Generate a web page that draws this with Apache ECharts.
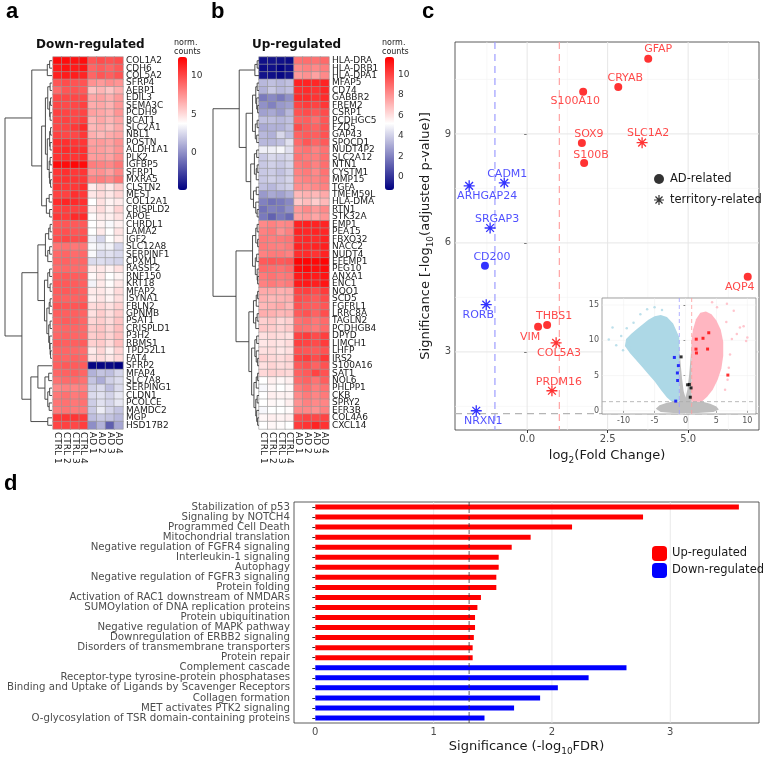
<!DOCTYPE html>
<html lang="en">
<head>
<meta charset="UTF-8">
<title>Astrocyte DEG figure</title>
<script src="https://cdn.jsdelivr.net/npm/echarts@6/dist/echarts.min.js"></script>
<style>
  html, body { margin: 0; padding: 0; background: #fff; }
  #chart { width: 765px; height: 757px; }
</style>
</head>
<body>
<div id="chart"></div>
<script>
// ---------- panel a / b : heatmaps ----------
const samples = ['CTRL 1', 'CTRL 2', 'CTRL 3', 'CTRL 4', 'AD 1', 'AD 2', 'AD 3', 'AD 4'];

const downGenes = ['COL1A2', 'CDH6', 'COL5A2', 'SFRP4', 'AEBP1', 'EDIL3', 'SEMA3C', 'PCDH9', 'BCAT1', 'SLC2A1',
  'NBL1', 'POSTN', 'ALDH1A1', 'PLK2', 'IGFBP5', 'SFRP1', 'MXRA5', 'CLSTN2', 'MEST', 'COL12A1',
  'CRISPLD2', 'APOE', 'CHRDL1', 'LAMA2', 'IGF2', 'SLC12A8', 'SERPINF1', 'CPXM1', 'RASSF2', 'RNF150',
  'KRT18', 'MFAP2', 'ISYNA1', 'FBLN2', 'GPNMB', 'PSAT1', 'CRISPLD1', 'P3H2', 'RBMS1', 'TPD52L1',
  'FAT4', 'SFRP2', 'MFAP4', 'SLC7A8', 'SERPING1', 'CLDN1', 'PCOLCE', 'MAMDC2', 'MGP', 'HSD17B2'];

// one row per gene: CTRL 1-4, AD 1-4
const downValues = [
  [12.0, 12.0, 11.8, 12.0, 9.5, 9.8, 9.6, 9.8],
  [11.5, 11.8, 11.5, 11.7, 9.0, 9.3, 9.0, 9.4],
  [11.3, 11.5, 11.4, 11.2, 9.0, 9.5, 9.2, 9.6],
  [9.5, 9.8, 9.6, 9.6, 7.5, 7.2, 7.6, 7.4],
  [8.8, 9.5, 9.6, 9.4, 5.8, 6.3, 5.8, 6.5],
  [10.0, 10.0, 10.0, 9.9, 6.8, 7.0, 6.5, 7.2],
  [10.0, 9.9, 10.0, 10.2, 6.6, 6.8, 6.4, 7.3],
  [10.2, 10.1, 10.0, 10.1, 7.0, 6.8, 6.5, 7.4],
  [10.0, 10.2, 10.0, 10.3, 6.3, 6.8, 6.3, 6.9],
  [10.0, 10.1, 10.5, 11.0, 6.2, 6.5, 6.0, 6.7],
  [10.2, 10.0, 10.0, 10.5, 6.5, 6.2, 6.6, 6.9],
  [10.8, 10.8, 10.6, 10.6, 7.0, 7.2, 6.9, 7.5],
  [10.8, 11.0, 10.8, 10.8, 7.2, 7.1, 6.8, 7.4],
  [10.7, 10.8, 10.6, 10.8, 7.1, 7.2, 6.9, 7.6],
  [12.0, 12.0, 12.2, 12.0, 8.2, 8.0, 7.8, 8.4],
  [10.6, 10.8, 10.5, 10.6, 7.3, 7.5, 7.0, 7.9],
  [10.6, 10.7, 10.6, 10.5, 8.0, 8.2, 7.8, 8.5],
  [10.6, 10.5, 10.5, 10.8, 4.4, 5.2, 4.5, 5.5],
  [10.2, 10.2, 10.8, 10.5, 4.6, 5.0, 4.6, 5.2],
  [11.0, 11.2, 11.0, 10.8, 3.8, 4.8, 4.2, 4.5],
  [10.2, 10.3, 10.2, 10.3, 4.4, 5.0, 4.3, 5.3],
  [10.5, 10.4, 11.0, 11.0, 3.9, 4.5, 4.3, 4.8],
  [9.4, 9.5, 9.4, 9.4, 3.8, 4.2, 3.6, 4.3],
  [9.6, 9.7, 9.5, 9.6, 3.8, 4.5, 3.8, 4.7],
  [9.8, 10.0, 9.8, 9.9, 3.3, 2.4, 3.8, 4.4],
  [8.5, 8.6, 8.4, 8.5, 3.6, 3.2, 3.4, 2.4],
  [8.9, 9.0, 8.8, 8.9, 3.6, 2.6, 2.8, 2.5],
  [9.0, 9.1, 8.9, 9.0, 2.6, 2.7, 2.5, 2.3],
  [8.8, 8.9, 8.8, 8.8, 4.4, 4.6, 4.2, 4.8],
  [9.3, 9.4, 9.3, 9.3, 4.0, 4.6, 3.8, 4.2],
  [9.4, 9.4, 9.3, 9.2, 3.4, 4.5, 3.9, 4.6],
  [9.3, 9.4, 9.3, 9.2, 4.5, 4.6, 4.2, 5.0],
  [9.2, 9.1, 9.1, 9.2, 4.3, 4.7, 4.2, 4.9],
  [9.6, 9.5, 9.5, 9.6, 5.0, 5.2, 4.8, 5.4],
  [9.3, 9.2, 9.2, 9.1, 4.8, 5.5, 4.9, 5.6],
  [9.1, 9.3, 9.2, 9.0, 5.2, 5.5, 5.0, 5.8],
  [8.9, 9.0, 9.0, 8.9, 5.6, 5.8, 5.2, 6.0],
  [9.0, 9.1, 9.0, 8.9, 5.5, 5.8, 5.3, 6.0],
  [9.3, 9.2, 9.2, 9.3, 5.4, 5.6, 5.0, 6.0],
  [9.0, 9.0, 8.9, 8.8, 4.5, 5.2, 4.3, 5.3],
  [9.1, 9.0, 9.1, 9.0, 4.8, 5.0, 4.6, 5.1],
  [9.2, 9.4, 9.3, 9.3, -4.6, -4.6, -4.5, -4.8],
  [9.0, 9.1, 9.2, 9.0, 1.2, 1.8, 1.6, 2.4],
  [8.6, 8.8, 8.8, 8.6, 1.8, 1.0, 2.2, 2.6],
  [7.8, 8.0, 7.9, 8.1, 2.2, 2.6, 1.6, 2.6],
  [8.4, 8.6, 8.3, 8.5, 2.6, 2.8, 2.3, 3.0],
  [8.5, 8.6, 8.4, 8.6, 2.1, 2.8, 2.4, 3.0],
  [8.3, 8.5, 8.3, 8.4, 2.0, 3.2, 2.4, 1.8],
  [10.5, 10.6, 10.6, 10.4, 1.6, 2.0, 1.8, 1.4],
  [10.1, 10.2, 10.0, 10.3, 0.0, 1.2, -1.6, 0.8]
];

const upGenes = ['HLA-DRA', 'HLA-DRB1', 'HLA-DPA1', 'MFAP5', 'CD74', 'GABBR2', 'FREM2', 'CSRP1', 'PCDHGC5', 'FZD5',
  'GAP43', 'SPOCD1', 'NUDT4P2', 'SLC2A12', 'NTN1', 'CYSTM1', 'MMP15', 'TGFA', 'TMEM59L', 'HLA-DMA',
  'RTN1', 'STK32A', 'EMP1', 'PEA15', 'FBXO32', 'NACC2', 'NUDT4', 'EFEMP1', 'PEG10', 'ANXA1',
  'ENC1', 'NQO1', 'SCD5', 'FGFRL1', 'LRRC8A', 'TAGLN2', 'PCDHGB4', 'DPYD', 'LIMCH1', 'LHFP',
  'IRS2', 'S100A16', 'SAT1', 'NOL6', 'PHLPP1', 'CKB', 'SPRY2', 'EFR3B', 'COL4A6', 'CXCL14'];

const upValues = [
  [-0.9, -0.8, -0.9, -1.0, 8.8, 8.9, 8.8, 9.0],
  [-1.0, -0.9, -1.2, -0.9, 8.2, 8.4, 8.2, 8.5],
  [-0.8, -0.9, -1.1, -0.8, 7.8, 8.0, 7.6, 8.2],
  [3.4, 3.6, 3.4, 3.6, 10.8, 10.8, 10.7, 10.8],
  [3.2, 3.8, 3.4, 3.6, 10.5, 10.6, 10.4, 10.7],
  [1.8, 2.2, 1.8, 2.4, 10.6, 10.6, 10.4, 10.6],
  [2.4, 2.0, 2.6, 2.8, 10.0, 10.2, 10.0, 10.3],
  [2.8, 3.0, 2.6, 3.4, 9.6, 9.8, 9.5, 9.8],
  [3.6, 3.6, 3.4, 3.6, 9.2, 9.3, 8.9, 9.5],
  [3.0, 3.2, 3.2, 3.6, 9.8, 9.4, 9.2, 9.6],
  [3.4, 3.2, 4.2, 3.6, 9.2, 9.4, 9.3, 9.6],
  [3.4, 3.4, 3.6, 4.4, 9.0, 9.5, 9.1, 9.4],
  [4.8, 4.8, 5.0, 4.4, 8.6, 8.8, 8.4, 8.8],
  [3.8, 4.2, 4.0, 4.2, 8.8, 8.6, 8.5, 8.9],
  [3.8, 4.0, 3.8, 4.1, 8.6, 8.8, 8.4, 8.9],
  [3.8, 3.9, 3.6, 4.0, 8.4, 8.6, 8.2, 8.8],
  [3.8, 4.0, 3.8, 4.1, 8.2, 8.4, 8.3, 8.6],
  [3.6, 3.4, 3.8, 4.0, 8.1, 8.0, 8.2, 8.4],
  [2.6, 3.0, 2.8, 3.2, 7.0, 7.2, 7.0, 7.4],
  [2.0, 1.6, 1.8, 2.2, 6.6, 6.9, 6.5, 7.0],
  [1.6, 2.0, 1.8, 2.4, 7.8, 8.2, 7.8, 8.2],
  [1.8, 1.2, 1.8, 1.4, 7.6, 7.8, 7.5, 7.9],
  [8.2, 8.4, 8.2, 8.3, 10.8, 10.9, 10.8, 10.8],
  [8.4, 8.6, 8.0, 8.4, 10.8, 10.7, 10.8, 10.7],
  [8.6, 8.5, 8.6, 8.7, 10.6, 10.7, 10.6, 10.8],
  [8.6, 8.5, 8.4, 8.6, 10.8, 10.7, 10.8, 10.9],
  [8.4, 8.6, 8.6, 8.4, 10.5, 10.6, 10.4, 10.8],
  [9.4, 9.5, 9.4, 9.5, 11.6, 11.6, 11.5, 11.6],
  [9.0, 8.9, 8.8, 9.0, 11.4, 11.5, 11.3, 11.4],
  [8.6, 8.8, 8.6, 8.7, 11.0, 11.2, 11.0, 11.2],
  [8.4, 8.6, 8.4, 8.6, 11.0, 11.1, 10.9, 11.2],
  [7.4, 7.4, 7.2, 7.3, 10.0, 10.1, 9.8, 10.2],
  [7.2, 7.0, 7.1, 7.2, 9.8, 9.6, 9.4, 9.8],
  [7.0, 7.2, 7.4, 7.0, 9.6, 9.4, 9.3, 9.5],
  [7.3, 7.2, 7.0, 7.1, 9.4, 9.6, 9.2, 9.7],
  [6.4, 6.6, 6.2, 6.4, 8.8, 9.0, 8.7, 9.0],
  [6.6, 6.5, 6.3, 6.5, 8.9, 8.8, 8.6, 9.0],
  [6.0, 6.2, 6.1, 6.0, 10.0, 10.2, 9.8, 10.1],
  [5.8, 6.0, 5.9, 6.1, 10.1, 10.0, 9.8, 10.2],
  [6.0, 6.1, 5.8, 6.0, 9.6, 9.5, 9.4, 9.6],
  [6.4, 6.2, 6.1, 6.3, 10.0, 10.2, 9.8, 10.3],
  [6.0, 6.3, 6.1, 6.2, 9.4, 9.6, 9.2, 9.6],
  [6.2, 6.4, 6.3, 6.2, 9.2, 9.4, 10.0, 9.6],
  [5.2, 5.6, 5.4, 5.6, 9.0, 9.2, 8.8, 9.3],
  [5.0, 5.4, 5.2, 5.4, 8.6, 8.9, 8.5, 8.8],
  [5.2, 5.6, 5.5, 5.5, 8.2, 8.6, 8.3, 8.6],
  [5.2, 5.4, 5.3, 5.6, 8.0, 8.4, 8.2, 8.3],
  [5.0, 5.2, 5.2, 5.3, 8.2, 8.2, 8.0, 8.4],
  [5.4, 5.6, 5.5, 5.6, 9.8, 10.0, 9.9, 10.0],
  [5.2, 5.4, 5.3, 5.2, 10.2, 10.4, 10.8, 10.4]
];

// row dendrograms: [height, left, right], leaves are row indices
const downTree = [100,
  [43, [10, [5, 0, 1], 2],
    [22,
      [14, [9, [4, 3, 4], [5, [3, 5, 6], [4, 7, 8]]],
        [10, [5, [3, 9, 10], [4, 11, 12]], [6, [4, 13, 14], [5, 15, [3, 16, 17]]]]],
      [12, [6, 18, 19], [5, 20, 21]]]],
  [64,
    [30, [14, [7, [4, 22, 23], 24], [9, [5, 25, 26], 27]],
      [16, [9, [5, 28, 29], [4, 30, 31]],
        [11, [6, [4, 32, 33], 34], [7, [4, 35, 36], [5, 37, [4, 38, [3, 39, 40]]]]]]],
    [45, [30, 41, [15, [7, 42, 43], [9, [5, 44, 45], [6, 46, 47]]]], [9, 48, 49]]]];

const upTree = [100,
  [43, [9, [4, 0, 1], 2],
    [28, [14, [7, [4, 3, 4], [5, 5, [3, 6, 7]]], [8, [4, 8, 9], [5, 10, 11]]],
      [18, [10, [5, 12, 13], [6, [4, 14, 15], 16]], [12, [6, 17, 18], [7, 19, [4, 20, 21]]]]]],
  [50,
    [14, [7, [4, 22, 23], [3, 24, 25]], [8, [5, 26, 27], [4, 28, [3, 29, 30]]]],
    [22, [12, [6, [3, 31, 32], 33], [7, [4, 34, 35], 36]],
      [16, [9, [5, 37, 38], [6, 39, [3, 40, 41]]], [11, [6, [3, 42, 43], 44], [7, [4, 45, 46], [5, 47, [3, 48, 49]]]]]]]];

// ---------- panel c : volcano ----------
const volcanoGenes = ['GFAP', 'CRYAB', 'S100A10', 'SOX9', 'SLC1A2', 'S100B', 'CADM1', 'ARHGAP24', 'SRGAP3',
  'CD200', 'AQP4', 'RORB', 'THBS1', 'VIM', 'COL5A3', 'PRDM16', 'NRXN1'];
const volcanoLog2FC = [3.76, 2.83, 1.74, 1.70, 3.57, 1.77, -0.71, -1.80, -1.15, -1.31, 6.85, -1.27, 0.62, 0.34, 0.90, 0.77, -1.58];
const volcanoSig = [11.07, 10.29, 10.16, 8.75, 8.76, 8.20, 7.65, 7.57, 6.41, 5.37, 5.07, 4.30, 3.74, 3.69, 3.25, 1.93, 1.38];
const volcanoType = ['AD', 'AD', 'AD', 'AD', 'territory', 'AD', 'territory', 'territory', 'territory',
  'AD', 'AD', 'territory', 'AD', 'AD', 'territory', 'territory', 'territory'];

// inset: outlines of the dense clouds plus the sparse outer points
const insetDownArea = [[-1, 1.3], [-2.2, 1.3], [-3, 1.9], [-4, 3.0], [-5, 4.2], [-6, 5.2], [-7, 6.2], [-8, 7.2], [-9, 8.2],
  [-9.8, 9.2], [-9.6, 10.2], [-8.8, 10.9], [-8, 11.5], [-7, 12.2], [-6, 12.9], [-5, 13.4], [-4, 13.6], [-3, 13.3],
  [-2, 12.4], [-1.4, 11.2], [-1, 10.4]];
const insetUpArea = [[1, 1.3], [2.6, 1.3], [3.5, 2.0], [4.4, 3.0], [5.2, 4.4], [5.8, 6.0], [6.1, 7.8], [6.1, 9.8],
  [5.7, 11.5], [5.0, 12.8], [4.2, 13.7], [3.3, 14.1], [2.4, 13.9], [1.7, 13.0], [1.2, 11.5], [1, 10.2]];
const insetNsArea = [[-1, 9.3], [-0.8, 6.8], [-0.55, 4.5], [-0.3, 2.8], [0, 1.9], [0.3, 3.0], [0.6, 5.2], [0.85, 7.8],
  [1, 10], [1, 1.3], [2.8, 1.3], [4, 1.0], [5, 0.6], [5.4, 0.2], [4.5, -0.15], [2, -0.3], [-2, -0.3], [-4, -0.15],
  [-4.8, 0.3], [-4.2, 0.8], [-3, 1.15], [-2.2, 1.3], [-1, 1.3]];
const insetDownSparse = [[-12.4, 10.1], [-11.8, 11.8], [-11.2, 9.3], [-9.5, 11.7], [-9.2, 9.9], [-8.4, 12.5], [-7.3, 13.7],
  [-6.2, 14.4], [-5.0, 14.7], [-3.8, 14.3], [-10.4, 10.6], [-8.8, 8.9], [-7.8, 7.6], [-6.8, 6.4], [-10.1, 8.6]];
const insetUpSparse = [[6.7, 15.2], [7.8, 14.2], [8.8, 11.8], [9.4, 12.0], [10.0, 10.4], [9.8, 9.9], [8.3, 10.9], [7.2, 8.0],
  [6.4, 3.0], [7.0, 6.1], [5.1, 14.7], [4.3, 15.4], [6.6, 12.6], [7.5, 10.2], [6.8, 4.4]];

// ---------- panel d : pathways ----------
const pathways = ['Stabilization of p53', 'Signaling by NOTCH4', 'Programmed Cell Death', 'Mitochondrial translation',
  'Negative regulation of FGFR4 signaling', 'Interleukin-1 signaling', 'Autophagy', 'Negative regulation of FGFR3 signaling',
  'Protein folding', 'Activation of RAC1 downstream of NMDARs', 'SUMOylation of DNA replication proteins',
  'Protein ubiquitination', 'Negative regulation of MAPK pathway', 'Downregulation of ERBB2 signaling',
  'Disorders of transmembrane transporters', 'Protein repair', 'Complement cascade',
  'Receptor-type tyrosine-protein phosphatases', 'Binding and Uptake of Ligands by Scavenger Receptors',
  'Collagen formation', 'MET activates PTK2 signaling', 'O-glycosylation of TSR domain-containing proteins'];
const pathwayScore = [3.58, 2.77, 2.17, 1.82, 1.66, 1.55, 1.55, 1.53, 1.53, 1.40, 1.37, 1.35, 1.35, 1.34, 1.33, 1.33,
  2.63, 2.31, 2.05, 1.90, 1.68, 1.43];
const pathwayDir = ['up', 'up', 'up', 'up', 'up', 'up', 'up', 'up', 'up', 'up', 'up', 'up', 'up', 'up', 'up', 'up',
  'down', 'down', 'down', 'down', 'down', 'down'];

// ---------- helpers ----------
const FONT = 'DejaVu Sans';
const RED = '#ff0000', BLUE = '#0000ff';
const asterisk = 'path://M-1.2,-10L1.2,-10L1.2,10L-1.2,10Z M-10,-1.2L10,-1.2L10,1.2L-10,1.2Z ' +
  'M-6.2,-7.9L7.9,6.2L6.2,7.9L-7.9,-6.2Z M6.2,-7.9L7.9,-6.2L-6.2,7.9L-7.9,6.2Z';

function heatData(values) {
  const out = [];
  values.forEach((row, r) => row.forEach((v, c) => out.push([c, r, v])));
  return out;
}

function dendroSegments(tree) {
  const segs = [];
  function walk(node) {
    if (typeof node === 'number') return { y: node + 0.5, h: 0 };
    const a = walk(node[1]), b = walk(node[2]);
    segs.push([node[0], a.y, b.y, a.h, b.h]);
    return { y: (a.y + b.y) / 2, h: node[0] };
  }
  walk(tree);
  return segs;
}

function renderDendro(params, api) {
  const h = api.value(0), y1 = api.value(1), y2 = api.value(2);
  const pts = [api.coord([api.value(3), y1]), api.coord([h, y1]), api.coord([h, y2]), api.coord([api.value(4), y2])];
  return { type: 'polyline', shape: { points: pts }, style: { stroke: '#3a3a3a', lineWidth: 0.9, fill: null } };
}

// straight reference lines across a grid (grid lines, thresholds)
function refLines(axisIndex, lines, z) {
  return {
    type: 'custom', xAxisIndex: axisIndex, yAxisIndex: axisIndex, z: z, silent: true,
    data: lines.map(l => [l.x != null ? l.x : 0, l.y != null ? l.y : 0]),
    renderItem: function (params, api) {
      const l = lines[params.dataIndex], cs = params.coordSys;
      let shape;
      if (l.x != null) {
        const px = api.coord([l.x, l.y != null ? l.y : 0])[0];
        shape = { x1: px, y1: cs.y, x2: px, y2: cs.y + cs.height };
      } else {
        const py = api.coord([0, l.y])[1];
        shape = { x1: cs.x, y1: py, x2: cs.x + cs.width, y2: py };
      }
      return { type: 'line', shape: shape, style: { stroke: l.c, lineWidth: l.w || 1, lineDash: l.d || null } };
    }
  };
}

function areaSeries(points, color, z) {
  return {
    type: 'custom', xAxisIndex: 7, yAxisIndex: 7, z: z, silent: true,
    data: [points[0]],
    renderItem: (params, api) => ({
      type: 'polygon',
      shape: { points: points.map(p => api.coord(p)) },
      style: { fill: color }
    })
  };
}

const hiddenAxis = (gridIndex, min, max, inverse) => ({ type: 'value', gridIndex, min, max, inverse: !!inverse, show: false });

function heatAxes(gridIndex, genes) {
  return {
    x: {
      type: 'category', gridIndex, data: samples, position: 'bottom',
      axisLine: { show: false }, axisTick: { show: false },
      axisLabel: { rotate: -90, fontSize: 9, color: '#1a1a1a', margin: 3, interval: 0 }
    },
    y: {
      type: 'category', gridIndex, data: genes, inverse: true, position: 'right',
      axisLine: { show: false }, axisTick: { show: false },
      axisLabel: { fontSize: 9, color: '#1a1a1a', margin: 3, interval: 0 }
    }
  };
}

function colorbarAxis(gridIndex, min, max, ticks) {
  return {
    type: 'value', gridIndex, min, max, position: 'right',
    axisLine: { show: false }, axisTick: { show: false }, splitLine: { show: false },
    axisLabel: { customValues: ticks, fontSize: 9, color: '#333', margin: 4 }
  };
}

const subRich = { s: { fontSize: 9, padding: [9, 0, 0, 0], color: '#1a1a1a' } };

// ---------- option ----------
const hA = heatAxes(1, downGenes), hB = heatAxes(4, upGenes);

const labelOffsets = {
  GFAP: [10, -10], CRYAB: [7, -9], S100A10: [-8, 9], SOX9: [7, -9], SLC1A2: [6, -9], S100B: [7, -8],
  CADM1: [3, -9], ARHGAP24: [18, 10], SRGAP3: [7, -9], CD200: [7, -9], AQP4: [-8, 10], RORB: [-8, 10],
  THBS1: [7, -9], VIM: [-8, 10], COL5A3: [3, 10], PRDM16: [7, -9], NRXN1: [7, 10]
};

const adPoints = [], terrPoints = [], insetHits = [];
volcanoGenes.forEach((g, i) => {
  const fc = volcanoLog2FC[i], sig = volcanoSig[i];
  const col = fc < 0 ? BLUE : RED;
  const item = {
    name: g, value: [fc, sig],
    itemStyle: { color: col },
    label: { color: fc < 0 ? '#2424ff' : '#ff1a1a', offset: labelOffsets[g] }
  };
  (volcanoType[i] === 'AD' ? adPoints : terrPoints).push(item);
  insetHits.push({ value: [fc, sig], itemStyle: { color: fc < -1 ? BLUE : (fc > 1 ? RED : '#000') } });
});

const option = {
  animation: false,
  backgroundColor: '#fff',
  textStyle: { fontFamily: FONT },
  title: [
    { text: 'a', left: 6, top: 1, padding: 0, textStyle: { fontSize: 22, fontWeight: 'bold', color: '#000', fontFamily: 'Liberation Sans' } },
    { text: 'b', left: 211, top: 1, padding: 0, textStyle: { fontSize: 22, fontWeight: 'bold', color: '#000', fontFamily: 'Liberation Sans' } },
    { text: 'c', left: 422, top: 1, padding: 0, textStyle: { fontSize: 22, fontWeight: 'bold', color: '#000', fontFamily: 'Liberation Sans' } },
    { text: 'd', left: 4, top: 473, padding: 0, textStyle: { fontSize: 22, fontWeight: 'bold', color: '#000', fontFamily: 'Liberation Sans' } },
    { text: 'Down-regulated', left: 36, top: 39, padding: 0, textStyle: { fontSize: 12, fontWeight: 'bold', color: '#111' } },
    { text: 'Up-regulated', left: 252, top: 39, padding: 0, textStyle: { fontSize: 12, fontWeight: 'bold', color: '#111' } },
    { text: 'norm.\ncounts', left: 174, top: 38, padding: 0, textStyle: { fontSize: 8, lineHeight: 9, fontWeight: 'normal', color: '#222' } },
    { text: 'norm.\ncounts', left: 382, top: 38, padding: 0, textStyle: { fontSize: 8, lineHeight: 9, fontWeight: 'normal', color: '#222' } }
  ],
  grid: [
    { left: 5, top: 57, width: 47, height: 372 },            // 0 dendro a
    { left: 53, top: 57, width: 70, height: 372 },           // 1 heat a
    { left: 178, top: 57, width: 9, height: 133 },           // 2 colorbar a ticks
    { left: 213, top: 57, width: 46, height: 372 },          // 3 dendro b
    { left: 259, top: 57, width: 70, height: 372 },          // 4 heat b
    { left: 385, top: 57, width: 9, height: 133 },           // 5 colorbar b ticks
    { left: 455, top: 42, width: 304, height: 388, show: true, borderColor: '#333', borderWidth: 0.8, backgroundColor: 'transparent' }, // 6 volcano
    { left: 602, top: 298, width: 154, height: 116, show: true, borderColor: '#8c8c8c', borderWidth: 0.8, backgroundColor: '#fff', z: 5 }, // 7 inset
    { left: 294, top: 502, width: 465, height: 221, show: true, borderColor: '#333', borderWidth: 0.8 } // 8 pathways
  ],
  xAxis: [
    hiddenAxis(0, 0, 100, true),
    hA.x,
    hiddenAxis(2, 0, 1),
    hiddenAxis(3, 0, 100, true),
    hB.x,
    hiddenAxis(5, 0, 1),
    {
      type: 'value', gridIndex: 6, min: -2.24, max: 7.2,
      axisLine: { show: false }, splitLine: { show: false },
      axisTick: { customValues: [0, 2.5, 5], length: 3, lineStyle: { color: '#333' } },
      axisLabel: { customValues: [0, 2.5, 5], formatter: v => v.toFixed(1), fontSize: 10, color: '#4d4d4d', margin: 4 },
      name: 'log{s|2}(Fold Change)', nameLocation: 'middle', nameGap: 17,
      nameTextStyle: { fontSize: 13, color: '#1a1a1a', rich: subRich }
    },
    {
      type: 'value', gridIndex: 7, min: -13.5, max: 11.4, z: 5,
      axisLine: { show: false }, splitLine: { show: false },
      axisTick: { customValues: [-10, -5, 0, 5, 10], length: 2, lineStyle: { color: '#555' } },
      axisLabel: { customValues: [-10, -5, 0, 5, 10], fontSize: 8, color: '#555', margin: 3 }
    },
    {
      type: 'value', gridIndex: 8, min: -0.18, max: 3.75,
      axisLine: { show: false }, splitLine: { show: false },
      axisTick: { customValues: [0, 1, 2, 3], length: 3, lineStyle: { color: '#333' } },
      axisLabel: { customValues: [0, 1, 2, 3], fontSize: 10, color: '#4d4d4d', margin: 4 },
      name: 'Significance (-log{s|10}FDR)', nameLocation: 'middle', nameGap: 15,
      nameTextStyle: { fontSize: 13, color: '#1a1a1a', rich: subRich }
    }
  ],
  yAxis: [
    hiddenAxis(0, 0, 50, true),
    hA.y,
    colorbarAxis(2, -4.8, 12.4, [0, 5, 10]),
    hiddenAxis(3, 0, 50, true),
    hB.y,
    colorbarAxis(5, -1.3, 11.7, [0, 2, 4, 6, 8, 10]),
    {
      type: 'value', gridIndex: 6, min: 0.85, max: 11.53,
      axisLine: { show: false }, splitLine: { show: false },
      axisTick: { customValues: [3, 6, 9], length: 3, lineStyle: { color: '#333' } },
      axisLabel: { customValues: [3, 6, 9], fontSize: 10, color: '#4d4d4d', margin: 4 },
      name: 'Significance [-log{s|10}(adjusted p-value)]', nameLocation: 'middle', nameGap: 20,
      nameTextStyle: { fontSize: 13, color: '#1a1a1a', rich: subRich }
    },
    {
      type: 'value', gridIndex: 7, min: -0.45, max: 16, z: 5,
      axisLine: { show: false }, splitLine: { show: false },
      axisTick: { customValues: [0, 5, 10, 15], length: 2, lineStyle: { color: '#555' } },
      axisLabel: { customValues: [0, 5, 10, 15], fontSize: 8, color: '#555', margin: 3 }
    },
    {
      type: 'category', gridIndex: 8, data: pathways, inverse: true,
      axisLine: { show: false },
      axisTick: { show: true, length: 3, alignWithLabel: true, interval: 0, lineStyle: { color: '#333' } },
      axisLabel: { fontSize: 10.2, color: '#4d4d4d', margin: 4, interval: 0 }
    }
  ],
  visualMap: [
    {
      type: 'continuous', seriesIndex: 0, min: -4.8, max: 12.4, left: 178, top: 57, itemWidth: 9, itemHeight: 133,
      padding: 0, calculable: false, hoverLink: false, inRange: { color: ['#000080', '#ffffff', '#ff0000'] }
    },
    {
      type: 'continuous', seriesIndex: 1, min: -1.3, max: 11.7, left: 385, top: 57, itemWidth: 9, itemHeight: 133,
      padding: 0, calculable: false, hoverLink: false, inRange: { color: ['#000080', '#ffffff', '#ff0000'] }
    }
  ],
  legend: [
    {
      left: 649, top: 168, orient: 'vertical', itemGap: 9, itemWidth: 12, itemHeight: 10, selectedMode: false,
      textStyle: { fontSize: 11.5, color: '#1a1a1a' },
      data: [{ name: 'AD-related', icon: 'circle' }, { name: 'territory-related', icon: asterisk }]
    },
    {
      left: 647, top: 541, orient: 'vertical', itemGap: 2, itemWidth: 15, itemHeight: 15, selectedMode: false,
      textStyle: { fontSize: 11.5, color: '#1a1a1a' },
      data: ['Up-regulated', 'Down-regulated']
    }
  ],
  series: [
    // 0, 1 heatmaps
    { type: 'heatmap', xAxisIndex: 1, yAxisIndex: 1, data: heatData(downValues),
      itemStyle: { borderColor: '#999', borderWidth: 0.6 }, emphasis: { disabled: true } },
    { type: 'heatmap', xAxisIndex: 4, yAxisIndex: 4, data: heatData(upValues),
      itemStyle: { borderColor: '#999', borderWidth: 0.6 }, emphasis: { disabled: true } },
    // dendrograms
    { type: 'custom', xAxisIndex: 0, yAxisIndex: 0, silent: true, data: dendroSegments(downTree),
      encode: { x: [0, 3], y: [1, 2] }, renderItem: renderDendro },
    { type: 'custom', xAxisIndex: 3, yAxisIndex: 3, silent: true, data: dendroSegments(upTree),
      encode: { x: [0, 3], y: [1, 2] }, renderItem: renderDendro },
    // volcano background grid and thresholds
    refLines(6, [
      { x: -1.25, c: '#f3f3f3', w: 0.6 }, { x: 1.25, c: '#f3f3f3', w: 0.6 }, { x: 3.75, c: '#f3f3f3', w: 0.6 }, { x: 6.25, c: '#f3f3f3', w: 0.6 },
      { y: 1.5, c: '#f3f3f3', w: 0.6 }, { y: 4.5, c: '#f3f3f3', w: 0.6 }, { y: 7.5, c: '#f3f3f3', w: 0.6 }, { y: 10.5, c: '#f3f3f3', w: 0.6 },
      { x: 0, c: '#e6e6e6', w: 1 }, { x: 2.5, c: '#e6e6e6', w: 1 }, { x: 5, c: '#e6e6e6', w: 1 },
      { y: 3, c: '#e6e6e6', w: 1 }, { y: 6, c: '#e6e6e6', w: 1 }, { y: 9, c: '#e6e6e6', w: 1 },
      { x: -1, c: '#9d9dff', w: 1.2, d: [7, 5] }, { x: 1, c: '#ffa3a3', w: 1.2, d: [7, 5] },
      { y: 1.3, c: '#b5b5b5', w: 1.2, d: [7, 5] }
    ], 1),
    // volcano genes
    { type: 'scatter', name: 'AD-related', xAxisIndex: 6, yAxisIndex: 6, symbol: 'circle', symbolSize: 8,
      itemStyle: { color: '#000' }, data: adPoints, z: 3,
      label: { show: true, position: 'inside', formatter: '{b}', fontSize: 11 }, emphasis: { disabled: true } },
    { type: 'scatter', name: 'territory-related', xAxisIndex: 6, yAxisIndex: 6, symbol: asterisk, symbolSize: 11,
      itemStyle: { color: '#000' }, data: terrPoints, z: 3,
      label: { show: true, position: 'inside', formatter: '{b}', fontSize: 11 }, emphasis: { disabled: true } },
    // inset
    refLines(7, [
      { x: -10, c: '#eeeeee', w: 0.5 }, { x: -5, c: '#eeeeee', w: 0.5 }, { x: 0, c: '#eeeeee', w: 0.5 }, { x: 5, c: '#eeeeee', w: 0.5 }, { x: 10, c: '#eeeeee', w: 0.5 },
      { y: 0, c: '#eeeeee', w: 0.5 }, { y: 5, c: '#eeeeee', w: 0.5 }, { y: 10, c: '#eeeeee', w: 0.5 }, { y: 15, c: '#eeeeee', w: 0.5 }
    ], 6),
    areaSeries(insetNsArea, '#bebebe', 7),
    areaSeries(insetDownArea, '#add8e6', 7),
    areaSeries(insetUpArea, '#ffb6c1', 7),
    { type: 'scatter', xAxisIndex: 7, yAxisIndex: 7, symbolSize: 2.5, itemStyle: { color: '#add8e6' }, data: insetDownSparse, z: 7, silent: true },
    { type: 'scatter', xAxisIndex: 7, yAxisIndex: 7, symbolSize: 2.5, itemStyle: { color: '#ffb6c1' }, data: insetUpSparse, z: 7, silent: true },
    refLines(7, [
      { x: -1, c: '#9d9dff', w: 0.8, d: [4, 3] }, { x: 1, c: '#ff9d9d', w: 0.8, d: [4, 3] },
      { y: 1.3, c: '#a8a8a8', w: 0.8, d: [4, 3] }
    ], 8),
    { type: 'scatter', xAxisIndex: 7, yAxisIndex: 7, symbol: 'rect', symbolSize: 3, data: insetHits, z: 9, silent: true },
    // pathways
    refLines(8, [{ x: 1, c: '#e3e3e3', w: 0.8 }, { x: 2, c: '#e3e3e3', w: 0.8 }, { x: 3, c: '#e3e3e3', w: 0.8 }], 1),
    { type: 'bar', name: 'Up-regulated', xAxisIndex: 8, yAxisIndex: 8, barWidth: 5, barGap: '-100%', z: 2,
      itemStyle: { color: RED }, data: pathwayScore.map((v, i) => pathwayDir[i] === 'up' ? v : null), emphasis: { disabled: true } },
    { type: 'bar', name: 'Down-regulated', xAxisIndex: 8, yAxisIndex: 8, barWidth: 5, barGap: '-100%', z: 2,
      itemStyle: { color: BLUE }, data: pathwayScore.map((v, i) => pathwayDir[i] === 'down' ? v : null), emphasis: { disabled: true } },
    refLines(8, [{ x: 1.3, c: '#333', w: 0.8, d: [4, 3] }], 4)
  ]
};

const chart = echarts.init(document.getElementById('chart'));
chart.setOption(option);
</script>
</body>
</html>
